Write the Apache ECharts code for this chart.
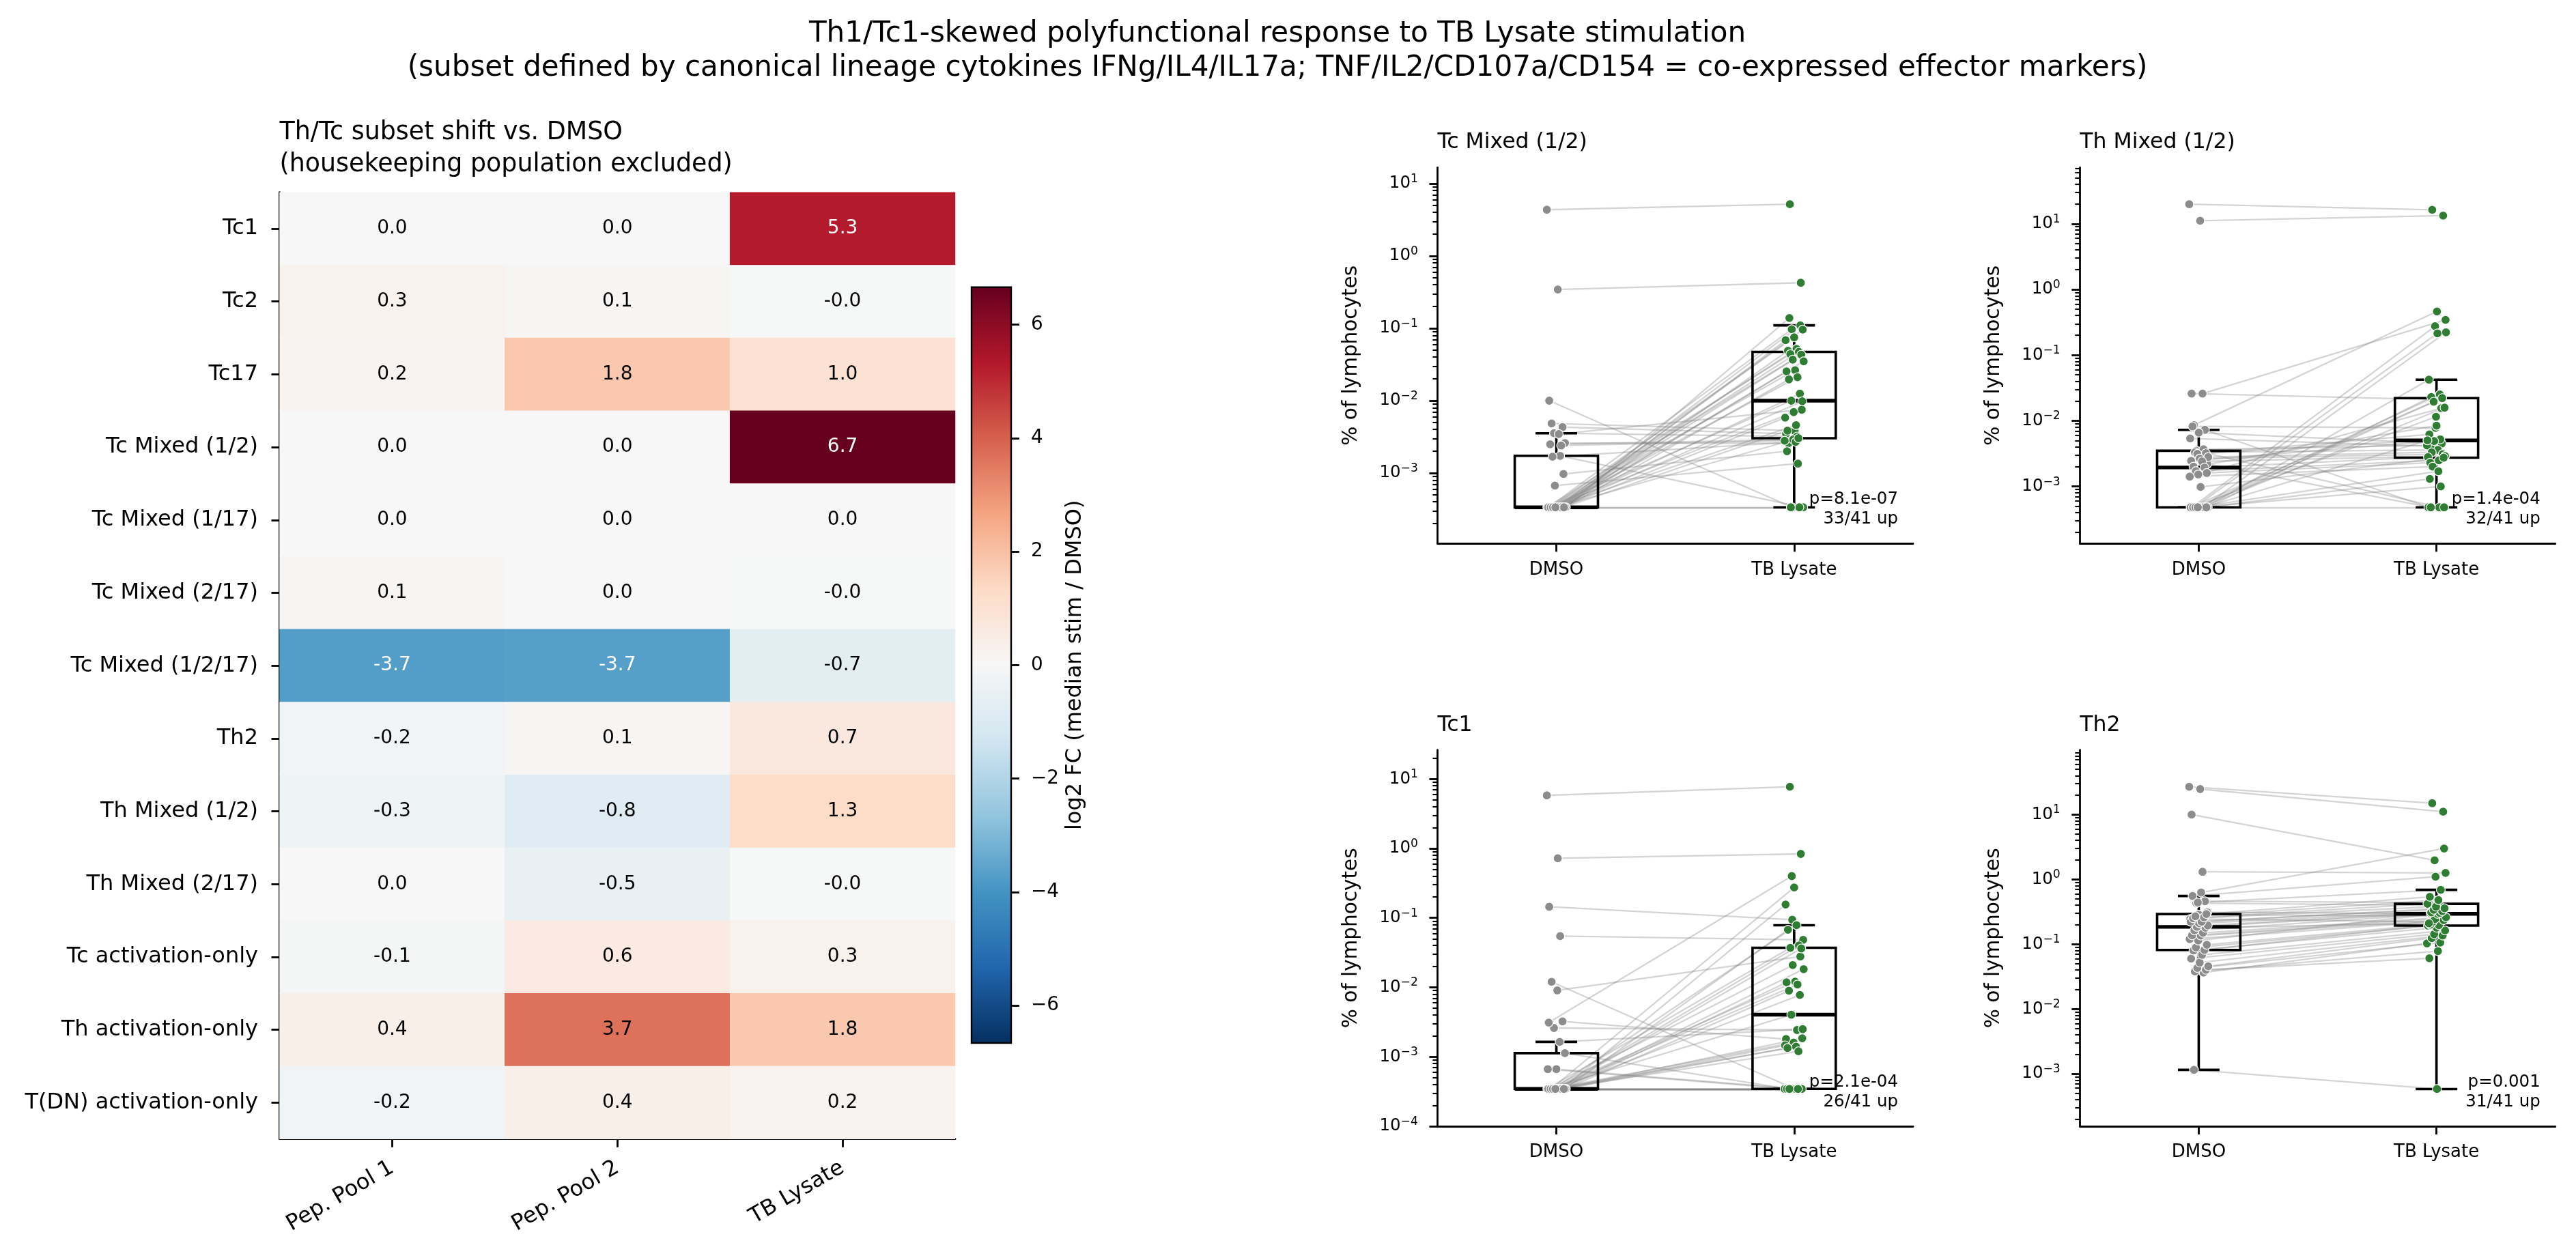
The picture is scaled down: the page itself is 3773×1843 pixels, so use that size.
<!DOCTYPE html>
<html><head><meta charset="utf-8">
<script src="https://cdn.jsdelivr.net/npm/echarts@6/dist/echarts.min.js"></script>
<style>html,body{margin:0;padding:0;background:#fff}#c{width:3773px;height:1843px}</style>
</head><body><div id="c"></div>
<script>
// ---------------- data ----------------
const mainTitle = 'Th1/Tc1-skewed polyfunctional response to TB Lysate stimulation\n(subset defined by canonical lineage cytokines IFNg/IL4/IL17a; TNF/IL2/CD107a/CD154 = co-expressed effector markers)';
const heatTitle = 'Th/Tc subset shift vs. DMSO\n(housekeeping population excluded)';
const heatRows = ['Tc1','Tc2','Tc17','Tc Mixed (1/2)','Tc Mixed (1/17)','Tc Mixed (2/17)','Tc Mixed (1/2/17)','Th2','Th Mixed (1/2)','Th Mixed (2/17)','Tc activation-only','Th activation-only','T(DN) activation-only'];
const heatCols = ['Pep. Pool 1','Pep. Pool 2','TB Lysate'];
const heatPep1 = [0.0, 0.3, 0.2, 0.0, 0.0, 0.1, -3.72, -0.2, -0.3, 0.0, -0.1, 0.4, -0.2];
const heatPep2 = [0.0, 0.1, 1.8, 0.0, 0.0, 0.0, -3.68, 0.1, -0.8, -0.5, 0.6, 3.66, 0.4];
const heatTB   = [5.3, -0.02, 1.0, 6.66, 0.0, -0.02, -0.7, 0.7, 1.3, -0.02, 0.3, 1.8, 0.2];
const cbarTicks = [-6, -4, -2, 0, 2, 4, 6];
const cbarLabel = 'log2 FC (median stim / DMSO)';

const groupLabels = ['DMSO', 'TB Lysate'];
const panelTitles = ['Tc Mixed (1/2)', 'Th Mixed (1/2)', 'Tc1', 'Th2'];
const panelPValues = ['p=8.1e-07', 'p=1.4e-04', 'p=2.1e-04', 'p=0.001'];
const yAxisName = '% of lymphocytes';

// % of lymphocytes per donor (same donor order in DMSO and TB Lysate arrays)
const tcMixed12Dmso = [4.35,0.344,0.0100,0.00173,0.00484,0.00431,0.00355,0.00260,0.000336,0.000336,0.00346,0.00250,0.00240,0.00168,0.00097,0.00067,
  0.000336,0.000336,0.000336,0.000336,0.000336,0.000336,0.000336,0.000336,0.000336,0.000336,0.000336,0.000336,0.000336,0.000336,0.000336,0.000336,0.000336,0.000336,0.000336,0.000336,0.000336,0.000336,0.000336,0.000336,0.000336];
const tcMixed12Tb = [5.19,0.426,0.000336,0.000336,0.00385,0.0035,0.0032,0.00258,0.000336,0.000336,0.0075,0.0029,0.0028,0.0027,0.0020,0.00135,
  0.139,0.110,0.097,0.096,0.075,0.0686,0.052,0.049,0.0473,0.044,0.0433,0.0369,0.035,0.0264,0.0254,0.0211,0.0197,0.0125,0.0100,0.0098,0.00695,0.00583,0.00459,0.00385,0.00303];

const thMixed12Dmso = [19.8,11.1,0.0259,0.0259,0.00857,0.00726,0.00349,0.0022,0.00659,0.00537,0.00048,0.0082,0.00367,0.0033,0.0032,0.00313,0.0028,0.00265,0.00245,0.0024,0.0020,0.00194,0.00171,0.0016,0.00152,0.00141,0.00098,
  0.00048,0.00048,0.00048,0.00048,0.00048,0.00048,0.00048,0.00048,0.00048,0.00048,0.00048,0.00048,0.00048,0.00048];
const thMixed12Tb = [16.3,13.3,0.021,0.344,0.461,0.00048,0.00048,0.00048,0.0045,0.0041,0.00048,0.0078,0.0042,0.0036,0.0062,0.0052,0.0033,0.0031,0.0049,0.0029,0.0084,0.0028,0.0025,0.0023,0.0155,0.0020,0.00274,
  0.275,0.222,0.214,0.0422,0.0251,0.0230,0.0221,0.0195,0.0158,0.0115,0.00502,0.0017,0.0013,0.0010];

const tc1Dmso = [5.81,0.723,0.1445,0.0547,0.0120,0.00324,0.0026,0.00113,0.000665,0.000665,
  0.000345,0.000345,0.000345,0.000345,0.000345,0.000345,0.000345,0.00904,0.00311,0.00164,
  0.000345,0.000345,0.000345,0.000345,0.000345,0.000345,0.000345,0.000345,0.000345,0.000345,0.000345,0.000345,0.000345,0.000345,0.000345,0.000345,0.000345,0.000345,0.000345,0.000345,0.000345];
const tc1Tb = [7.73,0.834,0.094,0.0483,0.000345,0.0018,0.00243,0.000345,0.000345,0.000345,
  0.000345,0.000345,0.000345,0.000345,0.000345,0.000345,0.000345,0.0278,0.40,0.0025,
  0.274,0.156,0.0785,0.0675,0.0400,0.0371,0.0363,0.0209,0.0183,0.0121,0.0118,0.0110,0.00895,0.00776,0.00404,0.00185,0.0016,0.00146,0.0014,0.00134,0.0012];

const th2Dmso = [26.9,24.8,10.0,1.31,0.00115,0.46,0.43,0.31,0.286,0.245,0.628,0.555,0.0364,0.038,0.0403,0.043,0.0456,0.052,0.06,0.0686,0.080,0.0815,0.089,0.098,0.114,0.12,0.136,0.137,0.15,0.163,0.18,0.185,0.195,0.21,0.222,0.222,0.251,0.26,0.27,0.292,0.44];
const th2Tb = [15.0,11.1,1.97,1.26,0.000582,0.44,0.397,0.298,0.27,0.222,3.0,1.10,0.103,0.0783,0.0607,0.106,0.124,0.136,0.143,0.163,0.180,0.194,0.197,0.2,0.30,0.222,0.235,0.245,0.26,0.294,0.21,0.305,0.31,0.323,0.34,0.358,0.38,0.42,0.48,0.539,0.69];

const panelData = [[tcMixed12Dmso, tcMixed12Tb],[thMixed12Dmso, thMixed12Tb],[tc1Dmso, tc1Tb],[th2Dmso, th2Tb]];
// y-axis limits of each panel, in log10 units
const panelYLim = [[-3.974, 1.223],[-3.87, 1.857],[-4.0, 1.418],[-3.81, 1.998]];

// ---------------- layout / style ----------------
const FONT = 'DejaVu Sans';
const BLACK = '#000';
const heatGrid = {left: 409.5, top: 281.7, width: 989.5, height: 1387};
const cbarGrid = {left: 1423, top: 420.7, width: 58, height: 1107.3};
const panelGrids = [
  {left: 2105.4, top: 245.3, width: 696.6, height: 551},
  {left: 3046.3, top: 245.3, width: 696.5, height: 551},
  {left: 2105.4, top: 1098.7, width: 696.6, height: 551.3},
  {left: 3046.3, top: 1098.7, width: 696.5, height: 551.3}
];
const RdBu_r = ['#053061','#2166ac','#4393c3','#92c5de','#d1e5f0','#f7f7f7','#fddbc7','#f4a582','#d6604d','#b2182b','#67001f'];
const DMSO_COLOR = '#8c8c8c', TB_COLOR = '#2e7d32';
const BOX_W = 0.35;

// ---------------- helpers ----------------
const allHeat = heatPep1.concat(heatPep2, heatTB);
const vmax = Math.max(...allHeat.map(Math.abs));
function quantile(s, p) { const h = (s.length - 1) * p, lo = Math.floor(h), hi = Math.ceil(h); return s[lo] + (s[hi] - s[lo]) * (h - lo); }
function boxStats(vals) {
  const s = vals.slice().sort((a, b) => a - b);
  const q1 = quantile(s, 0.25), med = quantile(s, 0.5), q3 = quantile(s, 0.75), iqr = q3 - q1;
  const hiB = q3 + 1.5 * iqr, loB = q1 - 1.5 * iqr;
  const wHi = Math.max(...s.filter(v => v <= hiB)), wLo = Math.min(...s.filter(v => v >= loB));
  return [wLo, q1, med, q3, wHi].map(Math.log10);
}
function jitter(i, g) { return (((i * 23 + g * 11) % 41) / 40 - 0.5) * 0.08; }
function expLabel(v) { const k = Math.round(v); return '{b|10}{e|' + (k < 0 ? '\u2212' + (-k) : String(k)) + '}'; }

// ---------------- build option ----------------
const grid = [
  Object.assign({outerBoundsMode: 'none'}, heatGrid),
  Object.assign({outerBoundsMode: 'none', show: true, borderColor: BLACK, borderWidth: 2.4, backgroundColor: 'transparent', z: 10}, cbarGrid)
].concat(panelGrids.map(g => Object.assign({outerBoundsMode: 'none'}, g)));

const axisLineStyle = {color: BLACK, width: 2.8};
const xAxis = [
  {type: 'category', gridIndex: 0, data: heatCols,
   axisLine: {show: true, onZero: false, lineStyle: axisLineStyle},
   axisTick: {show: true, alignWithLabel: true, length: 12, lineStyle: axisLineStyle},
   axisLabel: {interval: 0, rotate: 30, margin: 40, fontSize: 32, fontFamily: FONT, color: BLACK},
   splitLine: {show: false}, splitArea: {show: false}},
  {type: 'value', gridIndex: 1, show: false, min: 0, max: 1}
];
const yAxis = [
  {type: 'category', gridIndex: 0, data: heatRows, inverse: true,
   axisLine: {show: true, onZero: false, lineStyle: axisLineStyle},
   axisTick: {show: true, alignWithLabel: true, length: 12, lineStyle: axisLineStyle},
   axisLabel: {interval: 0, margin: 31.5, fontSize: 32, fontFamily: FONT, color: BLACK},
   splitLine: {show: false}, splitArea: {show: false}},
  {type: 'value', gridIndex: 1, position: 'right', min: -vmax, max: vmax,
   axisLine: {show: false, onZero: false},
   axisTick: {show: true, length: 12, customValues: cbarTicks, lineStyle: axisLineStyle},
   axisLabel: {customValues: cbarTicks, margin: 29, fontSize: 27.8, fontFamily: FONT, color: BLACK,
     formatter: v => (v < 0 ? '\u2212' + (-v) : String(v))},
   splitLine: {show: false},
   name: cbarLabel, nameLocation: 'middle', nameGap: 78, nameRotate: 90, nameMoveOverlap: false,
   nameTextStyle: {fontSize: 32, fontFamily: FONT, color: BLACK}}
];

const heatData = [];
[heatPep1, heatPep2, heatTB].forEach((col, c) => col.forEach((v, r) => {
  heatData.push({value: [c, r, v], label: {color: Math.abs(v) > 0.55 * vmax ? '#fff' : BLACK}});
}));

const series = [{
  type: 'heatmap', xAxisIndex: 0, yAxisIndex: 0, data: heatData,
  label: {show: true, fontSize: 28, fontFamily: FONT, formatter: p => p.value[2].toFixed(1)},
  itemStyle: {borderWidth: 0}, emphasis: {disabled: true}
}];

const graphicEls = [
  {type: 'text', x: 1871, y: 24.8, silent: true,
   style: {text: mainTitle, fontSize: 42.1, fontFamily: FONT, fill: BLACK, textAlign: 'center', textVerticalAlign: 'top', lineHeight: 50}},
  {type: 'text', x: heatGrid.left, y: 171, silent: true,
   style: {text: heatTitle, fontSize: 36.4, fontFamily: FONT, fill: BLACK, textAlign: 'left', textVerticalAlign: 'top', lineHeight: 46.7}}
];

panelGrids.forEach((g, p) => {
  const gi = 2 + p;
  const xi = 2 + p;
  const yi = 2 + 2 * p;
  const [ymin, ymax] = panelYLim[p];
  const majors = [], minors = [];
  for (let k = Math.floor(ymin) - 1; k <= Math.ceil(ymax); k++) {
    if (k >= ymin - 1e-9 && k <= ymax + 1e-9) majors.push(k);
    for (let m = 2; m <= 9; m++) { const v = k + Math.log10(m); if (v >= ymin && v <= ymax) minors.push(v); }
  }
  xAxis.push({type: 'value', gridIndex: gi, min: -0.5, max: 1.5,
    axisLine: {show: true, onZero: false, lineStyle: axisLineStyle},
    axisTick: {show: true, length: 12, customValues: [0, 1], lineStyle: axisLineStyle},
    axisLabel: {customValues: [0, 1], margin: 25.5, fontSize: 26, fontFamily: FONT, color: BLACK, formatter: v => groupLabels[Math.round(v)]},
    splitLine: {show: false}});
  yAxis.push({type: 'value', gridIndex: gi, position: 'left', min: ymin, max: ymax,
    axisLine: {show: true, onZero: false, lineStyle: axisLineStyle},
    axisTick: {show: true, length: 12, customValues: majors, lineStyle: axisLineStyle},
    axisLabel: {customValues: majors, margin: 28.5, formatter: expLabel, color: BLACK,
      rich: {b: {fontSize: 24.5, fontFamily: FONT, color: BLACK, lineHeight: 30},
             e: {fontSize: 17.2, fontFamily: FONT, color: BLACK, lineHeight: 18, verticalAlign: 'top'}}},
    splitLine: {show: false},
    name: yAxisName, nameLocation: 'middle', nameGap: 111, nameRotate: 90, nameMoveOverlap: false,
    nameTextStyle: {fontSize: 29.5, fontFamily: FONT, color: BLACK}});
  yAxis.push({type: 'value', gridIndex: gi, position: 'left', min: ymin, max: ymax,
    axisLine: {show: false, onZero: false},
    axisTick: {show: true, length: 7, customValues: minors, lineStyle: {color: BLACK, width: 2.1}},
    axisLabel: {show: false}, splitLine: {show: false}});

  const [dmso, tb] = panelData[p];
  const ptsD = dmso.map((v, i) => [0 + jitter(i, 0), Math.log10(v)]);
  const ptsT = tb.map((v, i) => [1 + jitter(i, 1), Math.log10(v)]);
  series.push({type: 'lines', coordinateSystem: 'cartesian2d', xAxisIndex: xi, yAxisIndex: yi, silent: true, z: 1,
    lineStyle: {color: '#808080', opacity: 0.34, width: 2.3, curveness: 0},
    data: ptsD.map((d, i) => ({coords: [d, ptsT[i]]}))});
  series.push({type: 'custom', xAxisIndex: xi, yAxisIndex: yi, silent: true, z: 2,
    encode: {x: 0, y: [1, 2, 3, 4, 5]},
    data: [[0].concat(boxStats(dmso)), [1].concat(boxStats(tb))],
    renderItem: (params, api) => {
      const x = api.value(0);
      const pLo = api.coord([x, api.value(1)]), pQ1 = api.coord([x, api.value(2)]), pMed = api.coord([x, api.value(3)]);
      const pQ3 = api.coord([x, api.value(4)]), pHi = api.coord([x, api.value(5)]);
      const w = api.size([BOX_W, 0])[0], h = w / 2, c = w / 4, cx = pQ1[0];
      const ln = (x1, y1, x2, y2, lw) => ({type: 'line', shape: {x1, y1, x2, y2}, style: {stroke: BLACK, lineWidth: lw, fill: null}});
      return {type: 'group', children: [
        ln(cx, pQ3[1], cx, pHi[1], 3.6), ln(cx, pQ1[1], cx, pLo[1], 3.6),
        ln(cx - c, pHi[1], cx + c, pHi[1], 3.6), ln(cx - c, pLo[1], cx + c, pLo[1], 3.6),
        {type: 'rect', shape: {x: cx - h, y: pQ3[1], width: w, height: pQ1[1] - pQ3[1]}, style: {fill: 'none', stroke: BLACK, lineWidth: 3.6}},
        ln(cx - h, pMed[1], cx + h, pMed[1], 5.4)
      ]};
    }});
  series.push({type: 'scatter', xAxisIndex: xi, yAxisIndex: yi, z: 3, symbolSize: 13, silent: true,
    itemStyle: {color: DMSO_COLOR, borderColor: '#fff', borderWidth: 1.2, opacity: 1}, data: ptsD});
  series.push({type: 'scatter', xAxisIndex: xi, yAxisIndex: yi, z: 3, symbolSize: 13, silent: true,
    itemStyle: {color: TB_COLOR, borderColor: '#fff', borderWidth: 1.2, opacity: 1}, data: ptsT});

  const up = tb.filter((v, i) => v > dmso[i]).length;
  graphicEls.push({type: 'text', x: g.left, y: g.top - 36, silent: true,
    style: {text: panelTitles[p], fontSize: 31.5, fontFamily: FONT, fill: BLACK, textAlign: 'left', textVerticalAlign: 'middle'}});
  graphicEls.push({type: 'text', x: g.left + g.width - 22, y: g.top + g.height - 20.5, silent: true, z: 100,
    style: {text: panelPValues[p] + '\n' + up + '/' + dmso.length + ' up', fontSize: 24.5, fontFamily: FONT, fill: BLACK,
      textAlign: 'right', textVerticalAlign: 'bottom', lineHeight: 29.4}});
});

const option = {
  animation: false,
  backgroundColor: '#fff',
  textStyle: {fontFamily: FONT},
  grid, xAxis, yAxis, series,
  visualMap: {type: 'continuous', seriesIndex: 0, dimension: 2, min: -vmax, max: vmax, calculable: false,
    orient: 'vertical', left: cbarGrid.left, top: cbarGrid.top, itemWidth: cbarGrid.width, itemHeight: cbarGrid.height,
    padding: 0, text: null, showLabel: false, inRange: {color: RdBu_r}, hoverLink: false},
  graphic: {elements: graphicEls}
};
const chart = echarts.init(document.getElementById('c'), null, {renderer: 'canvas', width: 3773, height: 1843});
chart.setOption(option);
</script></body></html>
